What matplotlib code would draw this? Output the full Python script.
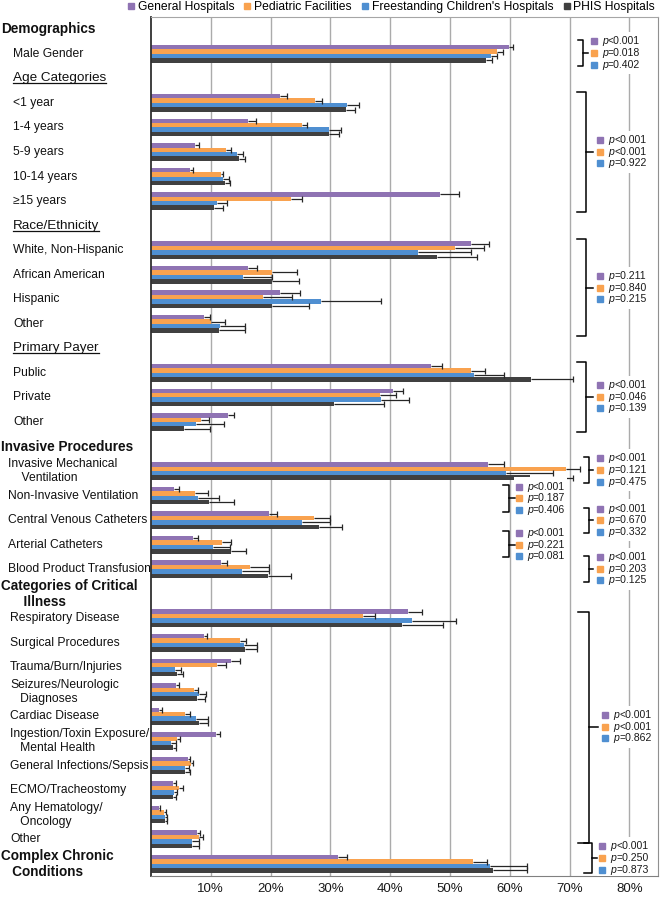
import numpy as np
import matplotlib
matplotlib.use('Agg')
import matplotlib.pyplot as plt
import matplotlib.transforms as mtransforms
from matplotlib.lines import Line2D
from matplotlib.patches import Rectangle

plt.rcParams['font.family'] = ['Liberation Sans', 'DejaVu Sans']

nan = np.nan

# row labels top to bottom (header rows carry no bars)
rows = ['Demographics', 'Male Gender', 'Age Categories', '<1 year', '1-4 years',
        '5-9 years', '10-14 years', '≥15 years', 'Race/Ethnicity',
        'White, Non-Hispanic', 'African American', 'Hispanic', 'Other',
        'Primary Payer', 'Public', 'Private', 'Other', 'Invasive Procedures',
        'Invasive Mechanical\n    Ventilation', 'Non-Invasive Ventilation',
        'Central Venous Catheters', 'Arterial Catheters',
        'Blood Product Transfusion', 'Categories of Critical\n      Illness',
        'Respiratory Disease', 'Surgical Procedures', 'Trauma/Burn/Injuries',
        'Seizures/Neurologic\n   Diagnoses', 'Cardiac Disease',
        'Ingestion/Toxin Exposure/\n   Mental Health',
        'General Infections/Sepsis', 'ECMO/Tracheostomy',
        'Any Hematology/\n   Oncology', 'Other', 'Complex Chronic\n   Conditions']
# h = bold header, u = underlined subheader, a/b/c = item in a section
row_kind = ['h', 'a', 'u', 'a', 'a', 'a', 'a', 'a', 'u', 'a', 'a', 'a', 'a',
            'u', 'a', 'a', 'a', 'h', 'b', 'b', 'b', 'b', 'b', 'h',
            'c', 'c', 'c', 'c', 'c', 'c', 'c', 'c', 'c', 'c', 'h']

series = ['General Hospitals', 'Pediatric Facilities',
          "Freestanding Children's Hospitals", 'PHIS Hospitals']

general = [nan, 59.9, nan, 21.5, 16.3, 7.3, 6.5, 48.4, nan, 53.6, 16.2, 21.5, 8.8,
           nan, 46.9, 40.4, 12.8, nan, 56.4, 3.9, 19.7, 7.1, 11.7, nan,
           43.0, 8.9, 13.3, 4.2, 1.4, 10.9, 6.2, 3.7, 1.3, 7.7, 31.2]
general_err = [nan, 0.6, nan, 1.2, 1.3, 0.7, 0.6, 3.1, nan, 3.0, 1.6, 3.4, 1.0,
               nan, 1.8, 1.7, 1.1, nan, 2.6, 0.7, 1.3, 0.8, 1.0, nan,
               2.3, 0.4, 1.6, 0.4, 0.4, 0.6, 0.4, 0.4, 0.2, 0.5, 1.5]
pediatric = [nan, 57.8, nan, 27.5, 25.2, 12.5, 11.7, 23.4, nan, 50.8, 20.3, 18.8, 10.0,
             nan, 53.5, 38.3, 8.3, nan, 69.4, 7.3, 27.3, 11.8, 16.6, nan,
             35.5, 14.9, 11.0, 7.2, 5.7, 4.4, 6.7, 4.7, 2.2, 8.1, 53.8]
pediatric_err = [nan, 1.0, nan, 1.1, 0.9, 0.8, 0.4, 1.8, nan, 4.9, 4.1, 4.7, 2.4,
                 nan, 2.4, 2.7, 1.4, nan, 2.3, 2.2, 2.6, 1.5, 3.1, nan,
                 2.0, 1.0, 1.5, 0.7, 0.9, 0.4, 0.4, 0.6, 0.3, 0.6, 2.4]
freestanding = [nan, 56.9, nan, 32.7, 29.8, 14.4, 12.1, 11.0, nan, 44.7, 15.4, 28.4, 11.5,
                nan, 54.0, 38.5, 7.6, nan, 59.3, 7.9, 25.3, 10.3, 15.2, nan,
                43.6, 15.6, 4.0, 8.0, 7.5, 3.4, 5.7, 3.8, 2.4, 6.9, 56.7]
freestanding_err = [nan, 1.0, nan, 2.1, 2.0, 1.0, 0.9, 1.7, nan, 8.8, 4.9, 10.0, 4.2,
                    nan, 5.0, 4.7, 4.6, nan, 7.9, 3.5, 4.6, 2.9, 4.5, nan,
                    7.4, 2.1, 1.1, 1.2, 2.1, 0.7, 0.7, 0.5, 0.2, 1.2, 6.2]
phis = [nan, 56.1, nan, 32.6, 29.7, 14.7, 12.4, 10.5, nan, 47.9, 20.3, 20.2, 11.4,
        nan, 63.5, 30.6, 5.6, nan, 63.4, 9.7, 28.1, 13.3, 19.6, nan,
        42.0, 15.7, 4.3, 7.7, 8.1, 3.6, 5.7, 3.6, 2.4, 6.9, 57.2]
phis_err = [nan, 1.0, nan, 1.5, 1.7, 1.0, 0.8, 1.5, nan, 6.6, 4.4, 6.3, 4.3,
            nan, 7.0, 8.4, 4.3, nan, 7.2, 4.1, 3.8, 2.6, 3.8, nan,
            6.8, 2.1, 1.0, 1.3, 1.5, 0.6, 0.8, 0.6, 0.3, 1.2, 5.7]

# p-values per group and the row span (top, bottom, middle) each brace covers
p_texts = [['<0.001', '=0.018', '=0.402'],
           ['<0.001', '<0.001', '=0.922'],
           ['=0.211', '=0.840', '=0.215'],
           ['<0.001', '=0.046', '=0.139'],
           ['<0.001', '=0.121', '=0.475'],
           ['<0.001', '=0.187', '=0.406'],
           ['<0.001', '=0.670', '=0.332'],
           ['<0.001', '=0.221', '=0.081'],
           ['<0.001', '=0.203', '=0.125'],
           ['<0.001', '<0.001', '=0.862'],
           ['<0.001', '=0.250', '=0.873']]
p_span = [(0.44, 1.50, 0.97), (2.56, 7.45, 4.99), (8.56, 12.50, 10.53),
          (13.55, 16.40, 14.97), (17.42, 18.48, 17.95), (18.57, 19.66, 19.11),
          (19.50, 20.51, 20.01), (20.43, 21.52, 21.0), (21.45, 22.51, 21.98),
          (23.73, 33.15, 28.42), (33.16, 34.38, 33.77)]
# brace stub, vertical, tip, square, text x (in % units)
p_x = [(71.4, 72.3, 73.1, 74.1, 75.4),
       (71.3, 72.8, 73.9, 75.1, 76.5),
       (71.3, 72.8, 73.9, 75.1, 76.5),
       (71.3, 72.8, 73.9, 75.1, 76.5),
       (72.4, 73.3, 73.9, 75.1, 76.5),
       (58.9, 59.9, 60.9, 61.6, 62.9),
       (72.4, 73.3, 73.9, 75.1, 76.5),
       (58.9, 59.9, 60.9, 61.6, 62.9),
       (72.4, 73.3, 73.9, 75.1, 76.5),
       (71.5, 73.3, 74.7, 75.9, 77.3),
       (72.4, 73.7, 74.6, 75.5, 76.8)]

colors = ['#8f73b3', '#f9a24f', '#4f8fd1', '#404040']
values = [general, pediatric, freestanding, phis]
errors = [general_err, pediatric_err, freestanding_err, phis_err]

W, H = 661, 897
fig = plt.figure(figsize=(W / 100, H / 100), dpi=100)
ax = fig.add_axes([151 / W, 1 - 876 / H, 507 / W, 859 / H])

y = np.arange(len(rows))
bar_h = 0.18
offsets = [-1.5, -0.5, 0.5, 1.5]
for vals, errs, col, off, name in zip(values, errors, colors, offsets, series):
    vals = np.array(vals)
    errs = np.array(errs)
    yy = y + off * bar_h
    ax.barh(yy, vals, height=bar_h, color=col, label=name, zorder=2)
    ax.hlines(yy, vals, vals + errs, color='#262626', lw=0.9, zorder=3)
    ax.plot(vals + errs, yy, '|', color='#262626', ms=4.5, mew=0.9, zorder=3)

ax.set_ylim(len(rows) - 0.5, -0.5)
ax.set_xlim(0, 84.8)
ax.set_yticks([])
ax.set_xticks(range(10, 90, 10))
ax.set_xticklabels([f'{v}%' for v in range(10, 90, 10)])
ax.tick_params(axis='x', length=0, pad=5, labelsize=9.5, colors='#1a1a1a')
ax.grid(axis='x', color='#ababab', lw=1.0)
ax.set_axisbelow(True)
ax.spines['left'].set_color('#303030')
ax.spines['left'].set_linewidth(1.3)
ax.spines['bottom'].set_color('#808080')
ax.spines['top'].set_color('#a6a6a6')
ax.spines['right'].set_color('#909090')

# p-value braces
step = 0.477
for texts, (top, bot, mid), (xs, xv, xt, xq, xx) in zip(p_texts, p_span, p_x):
    ax.plot([xs, xv, xv, xs], [top, top, bot, bot], color='black', lw=1.1,
            zorder=4, clip_on=False)
    ax.plot([xv, xt], [mid, mid], color='black', lw=1.1, zorder=4, clip_on=False)
    ax.add_patch(Rectangle((xq - 0.9, mid - step - 0.38), xx - xq + 7.6,
                           2 * step + 0.76, facecolor='white', edgecolor='none',
                           zorder=3.5))
    for k, t in enumerate(texts):
        yk = mid + (k - 1) * step
        ax.plot(xq, yk, 's', color=colors[k], ms=5, zorder=5)
        tp = ax.text(xx, yk, 'p', fontsize=7.6, style='italic', va='center',
                     ha='left', color='#1a1a1a', zorder=5)
        ax.annotate(t, xy=(1, 0), xycoords=tp, va='bottom', ha='left',
                    fontsize=7.6, color='#1a1a1a', zorder=5)

# row labels
trans = mtransforms.blended_transform_factory(fig.transFigure, ax.transData)
kind_x = {'h': 1, 'u': 13, 'a': 13, 'b': 8, 'c': 10}
under = []
for yi, lab, kind in zip(y, rows, row_kind):
    if kind == 'h':
        t = fig.text(kind_x[kind] / W, yi, lab, transform=trans, fontsize=9.8,
                     fontweight='bold', va='center', ha='left', color='#111111')
    elif kind == 'u':
        t = fig.text(kind_x[kind] / W, yi, lab, transform=trans, fontsize=9.7,
                     va='center', ha='left', color='#111111')
        under.append(t)
    else:
        t = fig.text(kind_x[kind] / W, yi, lab, transform=trans, fontsize=8.7,
                     va='center', ha='left', color='#111111')

fig.canvas.draw()
renderer = fig.canvas.get_renderer()
for t in under:
    bb = t.get_window_extent(renderer)
    x0, y0 = fig.transFigure.inverted().transform((bb.x0, bb.y0 + 1))
    x1, _ = fig.transFigure.inverted().transform((bb.x1, bb.y0 + 1))
    fig.add_artist(Line2D([x0, x1], [y0, y0], color='#111111', lw=0.9,
                          transform=fig.transFigure))

handles = [Line2D([], [], marker='s', ls='none', color=c, ms=5) for c in colors]
fig.legend(handles, series, loc='upper right', bbox_to_anchor=(655 / W, 0.999),
           ncol=4, frameon=False, fontsize=8.7, handlelength=0.6,
           handletextpad=0.25, columnspacing=0.8, borderpad=0, borderaxespad=0)

fig.savefig('out.png', dpi=100)
